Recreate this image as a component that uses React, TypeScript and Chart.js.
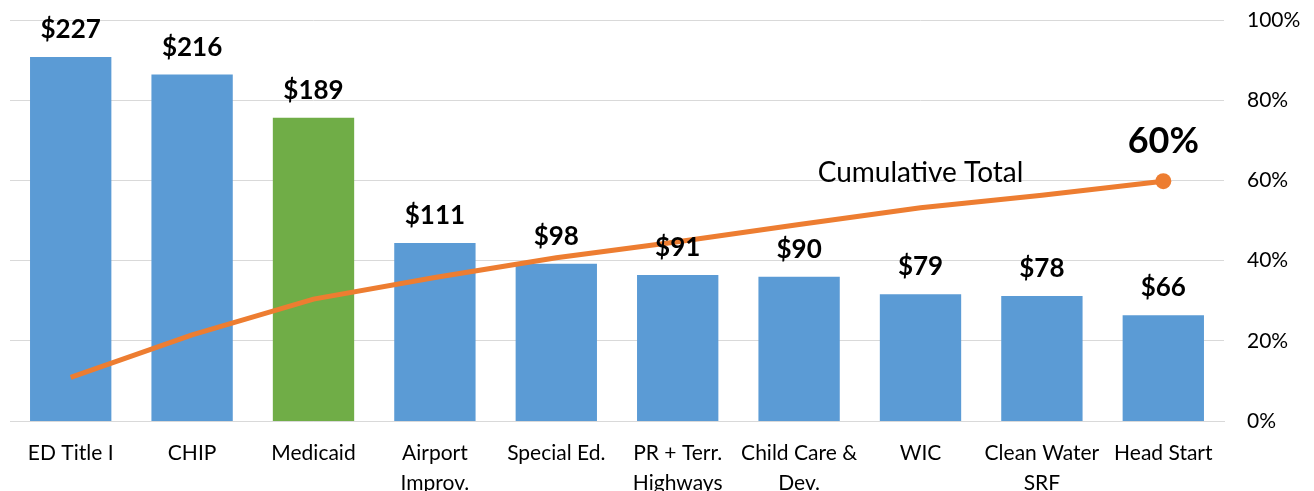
import React, { useEffect, useRef } from "react";
import { Chart, registerables } from "chart.js";

Chart.register(...registerables);

const categories: (string | string[])[] = [
  "ED Title I",
  "CHIP",
  "Medicaid",
  ["Airport", "Improv."],
  "Special Ed.",
  ["PR + Terr.", "Highways"],
  ["Child Care &", "Dev."],
  "WIC",
  ["Clean Water", "SRF"],
  "Head Start",
];
const amounts = [227, 216, 189, 111, 98, 91, 90, 79, 78, 66];
const cumulativePct = [10.9, 21.5, 30.4, 35.8, 40.7, 44.7, 49.0, 53.2, 56.3, 59.8];
const percentTicks = [0, 20, 40, 60, 80, 100];
const highlightIndex = 2;
const lineLabel = "Cumulative Total";
const endLabel = "60%";

const BLUE = "#5B9BD5";
const GREEN = "#70AD47";
const ORANGE = "#ED7D31";
const FONT = "Lato";

const labelPlugin = {
  id: "customLabels",
  afterDatasetsDraw(chart: any) {
    const ctx = chart.ctx;
    const barMeta = chart.getDatasetMeta(1);
    const lineMeta = chart.getDatasetMeta(0);
    ctx.save();
    ctx.fillStyle = "#000";
    ctx.textAlign = "center";
    ctx.textBaseline = "alphabetic";
    ctx.font = `bold 26px ${FONT}`;
    barMeta.data.forEach((bar: any, i: number) => {
      ctx.fillText("$" + amounts[i], bar.x, bar.y - 19);
    });
    const last = lineMeta.data[lineMeta.data.length - 1];
    ctx.font = `bold 36px ${FONT}`;
    ctx.fillText(endLabel, last.x, last.y - 28);
    const wic = lineMeta.data[7];
    ctx.font = `28px ${FONT}`;
    ctx.fillText(lineLabel, wic.x, wic.y - 26);
    ctx.restore();
  },
};

export default function App() {
  const ref = useRef<HTMLCanvasElement | null>(null);
  useEffect(() => {
    if (!ref.current) return;
    const chart = new Chart(ref.current, {
      type: "bar",
      data: {
        labels: categories as any,
        datasets: [
          {
            type: "line",
            label: lineLabel,
            data: cumulativePct,
            yAxisID: "y1",
            borderColor: ORANGE,
            backgroundColor: ORANGE,
            borderWidth: 5,
            pointRadius: cumulativePct.map((_, i) => (i === cumulativePct.length - 1 ? 8 : 0)),
            pointBackgroundColor: ORANGE,
            pointBorderWidth: 0,
            tension: 0,
            order: 0,
          } as any,
          {
            type: "bar",
            label: "Amount",
            data: amounts,
            yAxisID: "y",
            backgroundColor: amounts.map((_, i) => (i === highlightIndex ? GREEN : BLUE)),
            barPercentage: 0.67,
            categoryPercentage: 1,
            order: 1,
          },
        ],
      },
      options: {
        animation: false,
        responsive: true,
        maintainAspectRatio: false,
        layout: { padding: { left: 10, top: 20, right: 0, bottom: 0 } },
        plugins: { legend: { display: false }, tooltip: { enabled: false } },
        scales: {
          x: {
            grid: { display: false, drawTicks: false },
            border: { color: "#D9D9D9", width: 1 },
            ticks: {
              color: "#000",
              font: { family: FONT, size: 21, lineHeight: 1.4 },
              padding: 18,
              maxRotation: 0,
              autoSkip: false,
            },
            afterFit(scale: any) {
              scale.height = 70;
              scale.paddingLeft = 0;
              scale.paddingRight = 0;
            },
          },
          y: {
            display: false,
            min: 0,
            max: 250,
          },
          y1: {
            position: "right",
            min: 0,
            max: 100,
            afterBuildTicks(scale: any) {
              scale.ticks = percentTicks.map((v) => ({ value: v }));
            },
            grid: { color: "#D9D9D9", lineWidth: 1, drawTicks: false },
            border: { display: false },
            ticks: {
              color: "#000",
              font: { family: FONT, size: 21 },
              padding: 23,
              callback: (v: any) => v + "%",
            },
            afterFit(scale: any) {
              scale.width = 90;
              scale.paddingTop = 0;
              scale.paddingBottom = 0;
            },
          },
        },
      },
      plugins: [labelPlugin],
    });
    return () => chart.destroy();
  }, []);
  return (
    <div style={{ position: "absolute", left: 0, top: 0, width: 1314, height: 491 }}>
      <canvas ref={ref} />
    </div>
  );
}
